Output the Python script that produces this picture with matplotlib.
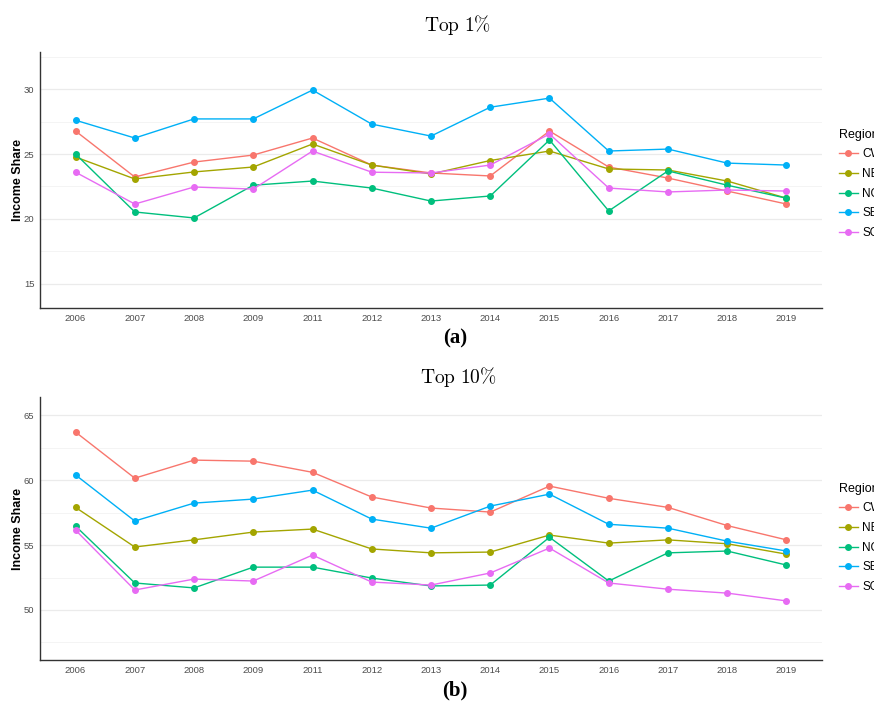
import matplotlib
matplotlib.use("Agg")
import matplotlib.pyplot as plt
from matplotlib.ticker import MultipleLocator
from matplotlib.lines import Line2D

plt.rcParams['font.family'] = ['Liberation Sans', 'DejaVu Sans']
plt.rcParams['mathtext.fontset'] = 'cm'

years = ["2006", "2007", "2008", "2009", "2011", "2012", "2013",
         "2014", "2015", "2016", "2017", "2018", "2019"]
regions = ["CW", "NE", "NO", "SE", "SO"]
colors = ["#F8766D", "#A3A500", "#00BF7D", "#00B0F6", "#E76BF3"]

# top 1% income share
top1_cw = [26.77, 23.23, 24.38, 24.92, 26.23, 24.15, 23.54, 23.31, 26.77, 24.0, 23.15, 22.15, 21.15]
top1_ne = [24.77, 23.08, 23.62, 24.0, 25.77, 24.15, 23.46, 24.5, 25.23, 23.85, 23.77, 22.92, 21.6]
top1_no = [25.0, 20.54, 20.08, 22.6, 22.92, 22.38, 21.38, 21.77, 26.08, 20.62, 23.7, 22.6, 21.6]
top1_se = [27.6, 26.23, 27.7, 27.7, 29.92, 27.3, 26.38, 28.6, 29.3, 25.23, 25.38, 24.3, 24.15]
top1_so = [23.6, 21.15, 22.46, 22.3, 25.23, 23.6, 23.54, 24.15, 26.54, 22.38, 22.08, 22.23, 22.15]

# top 10% income share
top10_cw = [63.7, 60.15, 61.54, 61.46, 60.6, 58.7, 57.85, 57.54, 59.54, 58.6, 57.9, 56.5, 55.4]
top10_ne = [57.9, 54.85, 55.4, 56.0, 56.23, 54.7, 54.4, 54.46, 55.77, 55.15, 55.4, 55.1, 54.3]
top10_no = [56.46, 52.08, 51.7, 53.3, 53.3, 52.46, 51.85, 51.92, 55.6, 52.23, 54.4, 54.54, 53.46]
top10_se = [60.4, 56.85, 58.23, 58.54, 59.23, 57.0, 56.3, 58.0, 58.92, 56.6, 56.3, 55.3, 54.54]
top10_so = [56.15, 51.54, 52.38, 52.23, 54.23, 52.15, 51.92, 52.85, 54.77, 52.08, 51.6, 51.3, 50.7]

top1 = [top1_cw, top1_ne, top1_no, top1_se, top1_so]
top10 = [top10_cw, top10_ne, top10_no, top10_se, top10_so]

W, H = 874, 703
fig = plt.figure(figsize=(W / 100, H / 100), dpi=100)


def panel(rect, series, ylim, title, tag, title_y, tag_y, leg_top):
    ax = fig.add_axes(rect)
    x = range(len(years))
    for vals, c in zip(series, colors):
        ax.plot(x, vals, color=c, lw=1.0, marker="o", ms=4.0, zorder=3)
    ax.set_xlim(-0.6, len(years) - 0.4)
    ax.set_ylim(*ylim)
    ax.set_xticks(list(x))
    ax.set_xticklabels(years)
    ax.yaxis.set_major_locator(MultipleLocator(5))
    ax.yaxis.set_minor_locator(MultipleLocator(2.5))
    ax.grid(axis="y", which="major", color="#EBEBEB", lw=0.9, zorder=0)
    ax.grid(axis="y", which="minor", color="#F2F2F2", lw=0.6, zorder=0)
    ax.tick_params(which="both", length=0, labelsize=6.8, labelcolor="#4D4D4D", pad=4)
    for s in ["top", "right"]:
        ax.spines[s].set_visible(False)
    for s in ["left", "bottom"]:
        ax.spines[s].set_color("#333333")
        ax.spines[s].set_linewidth(1.0)
    ax.set_ylabel("Income Share", fontsize=9, fontweight="bold", labelpad=0)
    fig.text(458 / W, 1 - title_y / H, title, ha="center", va="center", fontsize=14)
    fig.text(455 / W, 1 - tag_y / H, tag, ha="center", va="center", fontsize=15,
             fontweight="bold", family="Liberation Serif")
    handles = [Line2D([], [], color=c, lw=1.0, marker="o", ms=4.0) for c in colors]
    fig.legend(handles, regions, title="Region", loc="upper left",
               bbox_to_anchor=(834 / W, 1 - leg_top / H), frameon=False,
               fontsize=8.5, title_fontsize=9, handlelength=1.6,
               handletextpad=0.4, labelspacing=0.65, alignment="left",
               borderaxespad=0)
    return ax


panel([40 / W, 1 - 308 / H, 782 / W, 256 / H], top1, (13.15, 32.85),
      r"$\mathrm{Top\ 1\%}$", "(a)", 25, 338, 124)
panel([40 / W, 1 - 660 / H, 782 / W, 263 / H], top10, (46.15, 66.4),
      r"$\mathrm{Top\ 10\%}$", "(b)", 377, 690, 478)

fig.savefig("out.png", dpi=100)
